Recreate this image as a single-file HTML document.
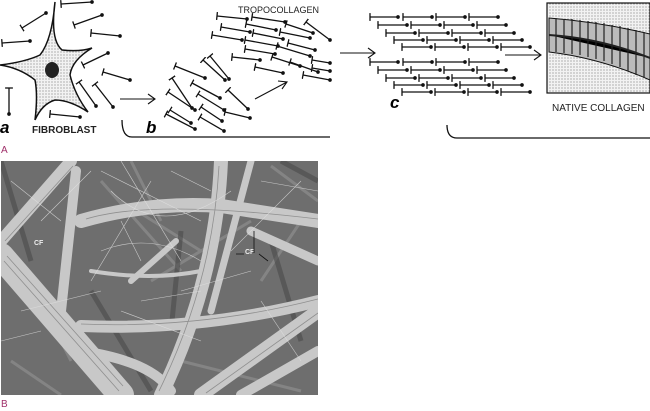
<!DOCTYPE html>
<html><head><style>
html,body{margin:0;padding:0;background:#fff;width:650px;height:411px;overflow:hidden}
svg{display:block}
text{font-family:"Liberation Sans",sans-serif}
</style></head><body>
<svg width="650" height="411" viewBox="0 0 650 411" xmlns="http://www.w3.org/2000/svg">
<defs>
<marker id="d" markerWidth="4" markerHeight="4" refX="2" refY="2"><circle cx="2" cy="2" r="1.4" fill="#111"/></marker>
<marker id="t" markerWidth="4" markerHeight="6" refX="2" refY="3" orient="auto"><line x1="2" y1="0" x2="2" y2="6" stroke="#111" stroke-width="1"/></marker>
<pattern id="st" width="3" height="3" patternUnits="userSpaceOnUse"><rect width="3" height="3" fill="#f2f2f2"/><circle cx="1" cy="1" r=".5" fill="#444"/></pattern>
<filter id="bl"><feGaussianBlur stdDeviation="1.5"/></filter>
</defs>
<path d="M55 2 Q50 40 62 50 Q80 52 92 48 Q72 60 70 75 Q75 95 88 112 Q70 100 55 100 Q42 104 35 120 Q38 95 35 80 Q20 68 0 65 Q25 62 40 55 Q52 40 55 2Z" fill="url(#st)" stroke="#111" stroke-width="1.5"/>
<ellipse cx="52" cy="70" rx="7" ry="8" fill="#222"/>
<g stroke="#111" stroke-width="1.3" marker-start="url(#t)" marker-end="url(#d)">
<line x1="61" y1="4" x2="92" y2="2"/><line x1="22" y1="28" x2="46" y2="13"/><line x1="2" y1="43" x2="30" y2="41"/>
<line x1="74" y1="25" x2="102" y2="15"/><line x1="91" y1="33" x2="120" y2="36"/><line x1="83" y1="65" x2="108" y2="53"/>
<line x1="103" y1="72" x2="130" y2="80"/><line x1="79" y1="82" x2="96" y2="106"/><line x1="95" y1="84" x2="113" y2="107"/>
<line x1="50" y1="114" x2="80" y2="117"/><line x1="9" y1="88" x2="9" y2="114"/>
<line x1="175" y1="66" x2="205" y2="78"/><line x1="172" y1="78" x2="192" y2="108"/><line x1="168" y1="92" x2="195" y2="110"/>
<line x1="166" y1="114" x2="195" y2="129"/><line x1="170" y1="110" x2="191" y2="123"/><line x1="192" y1="83" x2="220" y2="98"/>
<line x1="198" y1="94" x2="224" y2="110"/><line x1="200" y1="117" x2="224" y2="131"/><line x1="203" y1="60" x2="225" y2="80"/>
<line x1="210" y1="56" x2="229" y2="79"/><line x1="228" y1="90" x2="248" y2="109"/><line x1="225" y1="112" x2="250" y2="118"/>
<line x1="201" y1="107" x2="222" y2="121"/>
<line x1="217" y1="16" x2="247" y2="19"/><line x1="252" y1="17" x2="285" y2="22"/><line x1="286" y1="24" x2="313" y2="33"/>
<line x1="221" y1="27" x2="250" y2="32"/><line x1="246" y1="24" x2="276" y2="30"/><line x1="280" y1="32" x2="310" y2="38"/>
<line x1="212" y1="35" x2="242" y2="40"/><line x1="253" y1="33" x2="283" y2="39"/><line x1="288" y1="43" x2="315" y2="50"/>
<line x1="245" y1="40" x2="278" y2="46"/><line x1="277" y1="46" x2="310" y2="56"/><line x1="245" y1="49" x2="275" y2="54"/>
<line x1="232" y1="57" x2="260" y2="60"/><line x1="272" y1="57" x2="300" y2="66"/><line x1="306" y1="22" x2="330" y2="40"/>
<line x1="255" y1="67" x2="283" y2="73"/><line x1="290" y1="62" x2="318" y2="72"/><line x1="303" y1="75" x2="330" y2="80"/>
<line x1="312" y1="60" x2="330" y2="63"/><line x1="312" y1="68" x2="330" y2="71"/>
</g>
<g stroke="#111" stroke-width="1.3" marker-start="url(#t)" marker-end="url(#d)">
<line x1="370" y1="17" x2="398" y2="17"/><line x1="403" y1="17" x2="432" y2="17"/><line x1="436" y1="17" x2="465" y2="17"/><line x1="469" y1="17" x2="498" y2="17"/>
<line x1="378" y1="25" x2="407" y2="25"/><line x1="411" y1="25" x2="440" y2="25"/><line x1="444" y1="25" x2="473" y2="25"/><line x1="477" y1="25" x2="506" y2="25"/>
<line x1="386" y1="33" x2="415" y2="33"/><line x1="419" y1="33" x2="448" y2="33"/><line x1="452" y1="33" x2="481" y2="33"/><line x1="485" y1="33" x2="514" y2="33"/>
<line x1="394" y1="40" x2="423" y2="40"/><line x1="427" y1="40" x2="456" y2="40"/><line x1="460" y1="40" x2="489" y2="40"/><line x1="493" y1="40" x2="522" y2="40"/>
<line x1="402" y1="47" x2="431" y2="47"/><line x1="435" y1="47" x2="464" y2="47"/><line x1="468" y1="47" x2="497" y2="47"/><line x1="501" y1="47" x2="530" y2="47"/>
<line x1="370" y1="62" x2="398" y2="62"/><line x1="403" y1="62" x2="432" y2="62"/><line x1="436" y1="62" x2="465" y2="62"/><line x1="469" y1="62" x2="498" y2="62"/>
<line x1="378" y1="70" x2="407" y2="70"/><line x1="411" y1="70" x2="440" y2="70"/><line x1="444" y1="70" x2="473" y2="70"/><line x1="477" y1="70" x2="506" y2="70"/>
<line x1="386" y1="78" x2="415" y2="78"/><line x1="419" y1="78" x2="448" y2="78"/><line x1="452" y1="78" x2="481" y2="78"/><line x1="485" y1="78" x2="514" y2="78"/>
<line x1="394" y1="85" x2="423" y2="85"/><line x1="427" y1="85" x2="456" y2="85"/><line x1="460" y1="85" x2="489" y2="85"/><line x1="493" y1="85" x2="522" y2="85"/>
<line x1="402" y1="92" x2="431" y2="92"/><line x1="435" y1="92" x2="464" y2="92"/><line x1="468" y1="92" x2="497" y2="92"/><line x1="501" y1="92" x2="530" y2="92"/>
</g>
<g stroke="#111" stroke-width="1.1" fill="none">
<path d="M120 99H155M148 94l7 5-7 5"/>
<path d="M255 99L287 82M278 81l9 1-5 7"/>
<path d="M340 53H375M368 48l7 5-7 5"/>
<path d="M505 55H541M534 50l7 5-7 5"/>
<path d="M122 120Q122 137 132 137H330" stroke-width="1.3"/>
<path d="M447 125Q447 138 457 138H650" stroke-width="1.3"/>
</g>
<rect x="547" y="3" width="103" height="90" fill="url(#st)" stroke="#111" stroke-width="1.2"/>
<path d="M549 18 Q600 22 650 34 L650 80 Q600 58 549 52Z" fill="#bbb" stroke="#111"/>
<g stroke="#222" stroke-width="1.2">
<path d="M549 35 Q600 38 650 58" stroke-width="2"/>
<path d="M556 18v34M564 19v34M572 19v35M580 20v35M588 21v36M596 22v37M604 23v38M612 25v39M620 26v41M628 28v43M636 30v45M644 32v46"/>
</g>
<text x="0" y="133" font-family="Liberation Serif,serif" font-style="italic" font-weight="bold" font-size="17">a</text>
<text x="32" y="133" font-size="10" font-weight="bold" fill="#222">FIBROBLAST</text>
<text x="146" y="133" font-family="Liberation Serif,serif" font-style="italic" font-weight="bold" font-size="17">b</text>
<text x="238" y="13" font-size="9" fill="#222">TROPOCOLLAGEN</text>
<text x="390" y="108" font-family="Liberation Serif,serif" font-style="italic" font-weight="bold" font-size="17">c</text>
<text x="552" y="111" font-size="10" fill="#222">NATIVE COLLAGEN</text>
<text x="1" y="153" font-size="10" fill="#a0306a">A</text>
<text x="1" y="407" font-size="10" fill="#a0306a">B</text>
<svg x="1" y="161" width="317" height="234" viewBox="0 0 317 234">
<rect width="317" height="234" fill="#6e6e6e"/>
<g stroke="#8a8a8a" stroke-width="3" fill="none" opacity=".8">
<path d="M100 20 L180 110M120 40 L200 90M150 120 L250 60M30 120 L70 200M260 120 L300 60M180 200 L300 230M10 200 L60 234M270 5 L317 40M130 0 L160 60"/>
</g>
<g stroke="#4a4a4a" stroke-width="5" fill="none" opacity=".6">
<path d="M0 0 L30 100M90 130 L150 230M180 70 L170 170M270 80 L300 180M280 0 L317 20"/>
</g>
<g stroke="#c8c8c8" stroke-linecap="round" fill="none">
<path d="M0 95 L120 234" stroke-width="26"/>
<path d="M70 0 L0 80" stroke-width="12"/>
<path d="M80 60 Q150 40 220 45 L317 60" stroke-width="14"/>
<path d="M220 0 Q215 120 160 234" stroke-width="14"/>
<path d="M250 0 L210 150" stroke-width="7"/>
<path d="M75 10 L60 150" stroke-width="10"/>
<path d="M80 165 Q200 170 317 140" stroke-width="12"/>
<path d="M80 190 Q150 200 170 230" stroke-width="10"/>
<path d="M200 234 L317 150" stroke-width="14"/>
<path d="M240 234 L317 190" stroke-width="10"/>
<path d="M90 110 Q150 120 200 110" stroke-width="4"/>
<path d="M130 120 L175 80" stroke-width="6"/>
<path d="M250 70 L317 100" stroke-width="9"/>
</g>
<g stroke="#8f8f8f" stroke-width=".8" fill="none">
<path d="M3 100 L118 230M6 95 L122 225M72 5 L4 80M85 58 Q150 38 317 58M218 5 Q212 120 158 230M80 163 Q200 168 317 138M205 232 L317 152"/>
</g>
<g stroke="#e0e0e0" stroke-width=".6" fill="none" opacity=".8">
<path d="M100 10 L200 60M120 0 L180 100M150 20 L90 120M230 90 L300 20M20 150 L100 130M260 140 L300 200M10 20 L60 60M180 130 L250 110M200 180 L120 150M40 60 L90 10M110 30 Q160 80 230 30M100 90 Q150 70 200 100M140 140 L200 130M260 20 L317 30M0 180 L40 170M120 60 L140 100M170 10 L210 30"/>
</g>
<text x="33" y="84" font-size="7" fill="#eee" font-weight="bold">CF</text>
<text x="244" y="93" font-size="7" fill="#eee" font-weight="bold">CF</text>
<path d="M253 70v22M258 93l9 7M235 93h8" stroke="#111" stroke-width=".8"/>
</svg>
</svg>
</body></html>
